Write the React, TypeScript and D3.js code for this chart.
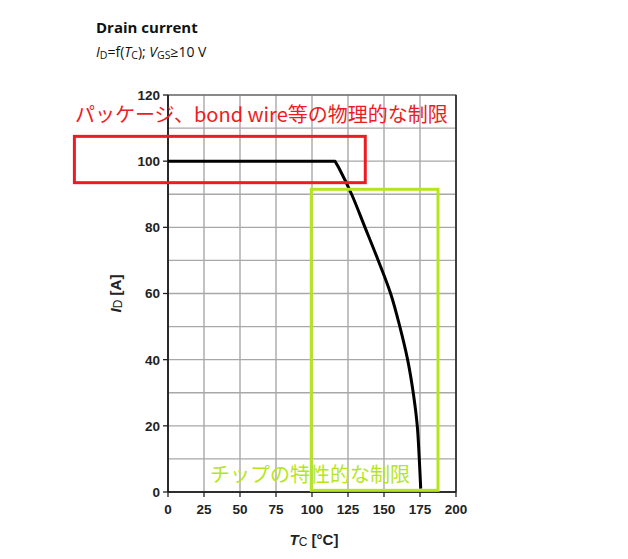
import React from "react";
import * as d3 from "d3";

// Drain current vs. case temperature
const tempC = [0, 116, 118.6, 127.5, 136.8, 146, 154.6, 161, 166.4, 170.3, 173.1, 174.5, 175.5];
const drainA = [100, 100, 98, 90, 80, 70, 60, 50, 40, 30, 20, 10, 1];
const xTicks = [0, 25, 50, 75, 100, 125, 150, 175, 200];
const yTicks = [0, 20, 40, 60, 80, 100, 120];
const yGrid = [0, 10, 20, 30, 40, 50, 60, 70, 80, 90, 100, 110, 120];
const packageNote = "パッケージ、bond wire等の物理的な制限";
const chipNote = "チップの特性的な制限";
// annotation boxes in data units: [x0, x1, y0, y1]
const packageBox = [-65, 137, 93.5, 107.5];
const chipBox = [99.5, 187.5, 0.5, 91.5];

const W = 628;
const H = 559;
const plot = { left: 168, right: 456, top: 95, bottom: 492 };

export default function App() {
  const x = d3.scaleLinear().domain([0, 200]).range([plot.left, plot.right]);
  const y = d3.scaleLinear().domain([0, 120]).range([plot.bottom, plot.top]);
  const pts: [number, number][] = tempC.map((t, i) => [t, drainA[i]]);
  const flat = pts.slice(0, 2);
  const fall = pts.slice(1);
  const line = d3
    .line<[number, number]>()
    .x((d) => x(d[0]))
    .y((d) => y(d[1]))
    .curve(d3.curveCatmullRom.alpha(0.5));
  const curvePath = (d3.line<[number, number]>().x((d) => x(d[0])).y((d) => y(d[1]))(flat) ?? "") +
    (line(fall) ?? "").replace(/^M/, "L");

  const axisFont = "Liberation Sans, Arial, sans-serif";
  const jpFont = "'Noto Sans CJK JP', sans-serif";
  const red = "#ed1c24";
  const green = "#b5e61d";

  const box = (b: number[]) => ({
    x: x(b[0]),
    y: y(b[3]),
    width: x(b[1]) - x(b[0]),
    height: y(b[2]) - y(b[3]),
  });
  const pb = box(packageBox);
  const cb = box(chipBox);

  return (
    <svg
      width={W}
      height={H}
      style={{ position: "absolute", left: 0, top: 0, background: "#fff" }}
    >
      {/* title */}
      <text x={96} y={33} fontFamily="'Open Sans', sans-serif" fontWeight={700} fontSize={15} fill="#111">
        Drain current
      </text>
      <text x={96} y={57} fontFamily="'Open Sans', sans-serif" fontSize={14} fill="#111">
        <tspan fontStyle="italic">I</tspan>
        <tspan fontSize={10.5} dy={2}>D</tspan>
        <tspan dy={-2}>=f(</tspan>
        <tspan fontStyle="italic">T</tspan>
        <tspan fontSize={10.5} dy={2}>C</tspan>
        <tspan dy={-2}>);  </tspan>
        <tspan fontStyle="italic">V</tspan>
        <tspan fontSize={10.5} dy={2}>GS</tspan>
        <tspan dy={-2}>≥10 V</tspan>
      </text>

      {/* grid */}
      <g stroke="#a8a8a8" strokeWidth={1.4}>
        {yGrid.map((v) => (
          <line key={"h" + v} x1={plot.left} x2={plot.right} y1={y(v)} y2={y(v)} />
        ))}
        {xTicks.map((v) => (
          <line key={"v" + v} x1={x(v)} x2={x(v)} y1={plot.top} y2={plot.bottom} />
        ))}
      </g>

      {/* frame */}
      <rect
        x={plot.left}
        y={plot.top}
        width={plot.right - plot.left}
        height={plot.bottom - plot.top}
        fill="none"
        stroke="#555"
        strokeWidth={1}
      />
      <line x1={plot.left} x2={plot.left} y1={plot.top} y2={plot.bottom} stroke="#111" strokeWidth={1.6} />
      <line x1={plot.left} x2={plot.right} y1={plot.bottom} y2={plot.bottom} stroke="#111" strokeWidth={1.6} />
      <line x1={plot.right} x2={plot.right} y1={plot.top} y2={plot.bottom} stroke="#222" strokeWidth={1.4} />

      {/* ticks */}
      <g stroke="#222" strokeWidth={1.3}>
        {yTicks.map((v) => (
          <line key={"yt" + v} x1={plot.left - 5} x2={plot.left} y1={y(v)} y2={y(v)} />
        ))}
        {xTicks.map((v) => (
          <line key={"xt" + v} x1={x(v)} x2={x(v)} y1={plot.bottom} y2={plot.bottom + 5} />
        ))}
      </g>
      <g fontFamily={axisFont} fontWeight={700} fontSize={13.5} fill="#222">
        {yTicks.map((v) => (
          <text key={"yl" + v} x={plot.left - 8} y={y(v)} dy="0.36em" textAnchor="end">
            {v}
          </text>
        ))}
        {xTicks.map((v) => (
          <text key={"xl" + v} x={x(v)} y={plot.bottom + 22} textAnchor="middle">
            {v}
          </text>
        ))}
      </g>

      {/* axis titles */}
      <text x={314} y={545} textAnchor="middle" fontFamily={axisFont} fontWeight={700} fontSize={15} fill="#222">
        <tspan fontStyle="italic">T</tspan>
        <tspan fontSize={12} fontWeight={400} dy={1}>C</tspan>
        <tspan dy={-1}> [°C]</tspan>
      </text>
      <text
        transform={`translate(121, ${y(60)}) rotate(-90)`}
        textAnchor="middle"
        fontFamily={axisFont}
        fontWeight={700}
        fontSize={15}
        fill="#222"
      >
        <tspan fontStyle="italic">I</tspan>
        <tspan fontSize={12} fontWeight={400} dy={1}>D</tspan>
        <tspan dy={-1}> [A]</tspan>
      </text>

      {/* curve */}
      <path d={curvePath} fill="none" stroke="#000" strokeWidth={3} strokeLinejoin="round" />

      {/* annotations */}
      <rect {...pb} fill="none" stroke={red} strokeWidth={3} />
      <text x={75} y={122} fontFamily={jpFont} fontSize={20} fill={red}>
        {packageNote}
      </text>
      <rect {...cb} fill="none" stroke={green} strokeWidth={3} />
      <text x={210} y={482} fontFamily={jpFont} fontSize={20} fill={green}>
        {chipNote}
      </text>
    </svg>
  );
}
